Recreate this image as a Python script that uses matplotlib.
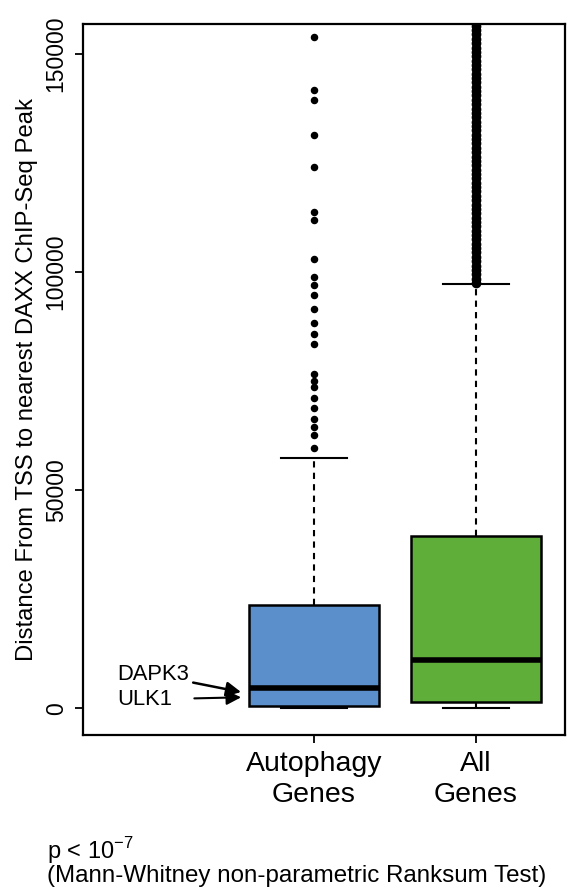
import matplotlib
matplotlib.use("Agg")
import matplotlib.pyplot as plt

plt.rcParams['font.family'] = ['Liberation Sans', 'DejaVu Sans']

categories = ["Autophagy\nGenes", "All\nGenes"]
box_colors = ["#5b8fcb", "#60ae3a"]

# five-number summaries
whislo = [0, 0]
q1 = [450, 1400]
med = [4600, 11000]
q3 = [23600, 39400]
whishi = [57300, 97200]

autophagy_outliers = [153800, 141700, 139400, 131400, 124150, 113800, 111900,
                      103100, 98900, 97000, 94700, 91500, 88300, 85800, 83500,
                      76600, 75000, 73600, 71100, 68800, 66300, 64450, 62600,
                      59600]
all_outliers = [97500, 98500, 99500, 100500, 101500, 102500, 103500, 104500,
                105500, 106500, 107500, 108500, 109500, 110500, 111500, 112500,
                113500, 114500, 115500, 116500, 117500, 118500, 119500, 120500,
                121500, 122500, 123500, 124500, 125500, 126500, 127500, 128500,
                129500, 130500, 131500, 132500, 133500, 134500, 135500, 136500,
                137500, 138500, 139500, 140500, 141500, 142500, 143500, 144500,
                145500, 146500, 147500, 148500, 149500, 150500, 151500, 152500,
                153500, 154500, 155500, 156500, 157500, 158500]
fliers = [autophagy_outliers, all_outliers]

yticks = [0, 50000, 100000, 150000]

genes = ["DAPK3", "ULK1"]
gene_values = [3700, 2500]

fig = plt.figure(figsize=(5.68, 8.88), dpi=100)
ax = fig.add_axes([0.146, 0.172, 0.849, 0.801])

stats = []
for i in range(2):
    stats.append(dict(whislo=whislo[i], q1=q1[i], med=med[i], q3=q3[i],
                      whishi=whishi[i], fliers=fliers[i]))

bp = ax.bxp(stats, positions=[1, 2], widths=0.8, capwidths=0.41,
            patch_artist=True, showfliers=True,
            boxprops=dict(edgecolor='black', linewidth=1.8),
            medianprops=dict(color='black', linewidth=4),
            whiskerprops=dict(color='black', linewidth=1.5, linestyle=(0, (3, 2.5))),
            capprops=dict(color='black', linewidth=1.5),
            flierprops=dict(marker='o', markerfacecolor='black',
                            markeredgecolor='black', markersize=4.4,
                            linestyle='none'))
for patch, c in zip(bp['boxes'], box_colors):
    patch.set_facecolor(c)
bp['fliers'][1].set_markersize(6)

ax.set_xlim(-0.426, 2.55)
ax.set_ylim(-6200, 156900)
ax.set_yticks(yticks)
ax.set_yticklabels([str(v) for v in yticks], rotation=90, va='center',
                   fontsize=16.5)
ax.set_xticks([1, 2])
ax.set_xticklabels(categories, fontsize=20.5, linespacing=1.25)
ax.tick_params(axis='both', direction='out', length=6, width=1.3, pad=5)
ax.tick_params(axis='x', pad=5)
for s in ax.spines.values():
    s.set_linewidth(1.6)
ax.set_ylabel("Distance From TSS to nearest DAXX ChIP-Seq Peak", fontsize=17.2,
              labelpad=5)

# gene annotations
ax.annotate(genes[0], xy=(0.55, gene_values[0]), xytext=(-0.215, 7700),
            fontsize=15.8, va='center', ha='left',
            arrowprops=dict(arrowstyle='-|>', color='black', lw=1.8,
                            mutation_scale=22, shrinkA=1, shrinkB=0))
ax.annotate(genes[1], xy=(0.55, gene_values[1]), xytext=(-0.215, 2000),
            fontsize=15.8, va='center', ha='left',
            arrowprops=dict(arrowstyle='-|>', color='black', lw=1.5,
                            mutation_scale=22, shrinkA=14, shrinkB=0))

fig.text(47 / 568, 1 - 851 / 888, r'p < 10$^{\mathregular{-7}}$', fontsize=17,
         ha='left', va='center')
fig.text(47 / 568, 1 - 876 / 888, "(Mann-Whitney non-parametric Ranksum Test)",
         fontsize=17.4, ha='left', va='center')

fig.savefig("out.png", dpi=100)
